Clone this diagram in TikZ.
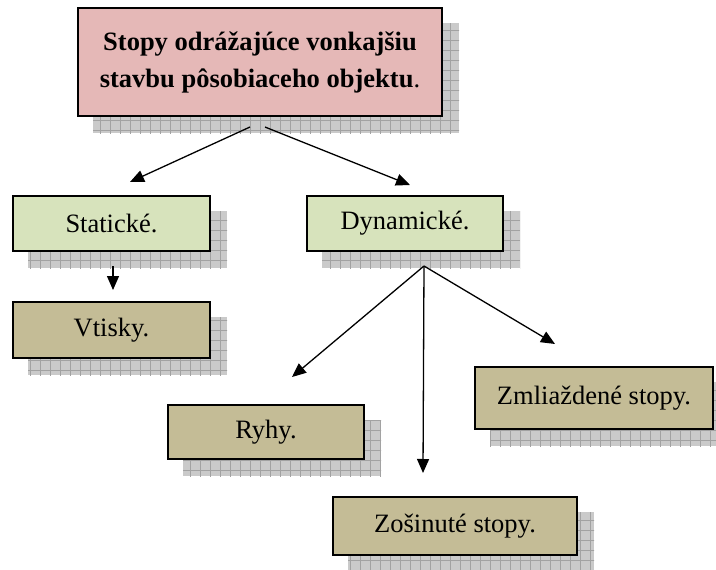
\documentclass[tikz,border=0pt]{standalone}
\usepackage{fontspec}
\setmainfont{Liberation Serif}
\usetikzlibrary{arrows.meta,calc,backgrounds}

\definecolor{headfill}{HTML}{E5B8B7}
\definecolor{midfill}{HTML}{D7E3BC}
\definecolor{leaffill}{HTML}{C4BC96}
\definecolor{shadefill}{HTML}{CACACA}
\definecolor{shadegrid}{HTML}{A2A2A2}

\tikzset{
  card/.style={draw=black, line width=2pt, inner sep=0pt, align=center,
    font=\fontsize{26.5}{37}\selectfont},
  headcard/.style={card, fill=headfill},
  midcard/.style={card, fill=midfill},
  leafcard/.style={card, fill=leaffill},
  link/.style={line width=1.3pt, -{Triangle[length=14pt,width=12pt]}},
}

% grid-patterned drop shadow behind a card
\newcommand\cardshadow[1]{%
  \begin{scope}
    \clip ([shift={(16,16)}]#1.north west) rectangle ([shift={(16,16)}]#1.south east);
    \fill[shadefill] ([shift={(16,16)}]#1.north west) rectangle ([shift={(16,16)}]#1.south east);
    \draw[shadegrid, line width=0.8pt, step=10pt]
      ([shift={(6,6)}]#1.north west) grid ([shift={(26,26)}]#1.south east);
  \end{scope}}

\begin{document}
\begin{tikzpicture}[x=1pt, y=-1pt]
  \useasboundingbox (0,0) rectangle (716,570);

  % cards
  \node[headcard, minimum width=364pt, minimum height=108pt] (head) at (260,62)
    {\textbf{Stopy odrážajúce vonkajšiu}\\\textbf{stavbu pôsobiaceho objektu}.};
  \node[midcard, minimum width=197pt, minimum height=55pt] (stat) at (111.5,223.5) {Statické.};
  \node[midcard, minimum width=196pt, minimum height=55pt] (dyn) at (405,223.5) {Dynamické.};
  \node[leafcard, minimum width=197pt, minimum height=56pt] (vtisky) at (111.5,330) {Vtisky.};
  \node[leafcard, minimum width=196pt, minimum height=54pt] (ryhy) at (266,432) {Ryhy.};
  \node[leafcard, minimum width=238pt, minimum height=62pt] (zml) at (594,398) {Zmliaždené stopy.};
  \node[leafcard, minimum width=244pt, minimum height=58pt] (zos) at (455,526) {Zošinuté stopy.};

  % shadows
  \begin{scope}[on background layer]
    \cardshadow{head}
    \cardshadow{stat}
    \cardshadow{dyn}
    \cardshadow{vtisky}
    \cardshadow{ryhy}
    \cardshadow{zml}
    \cardshadow{zos}
  \end{scope}

  % connectors
  \draw[link] ($(head.south)+(-10,10)$) -- ($(stat.north)+(18.5,-13)$);
  \draw[link] ($(head.south)+(5,10)$) -- ($(dyn.north)+(5,-10)$);
  \draw[link] ($(stat.south)+(1.5,14)$) -- ($(vtisky.north)+(1.5,-11)$);
  \coordinate (fork) at ($(dyn.south)+(19,14)$);
  \draw[link] (fork) -- ($(ryhy.north)+(26,-27)$);
  \draw[link] (fork) -- ($(zos.north)+(-32,-23)$);
  \draw[link] (fork) -- ($(zml.north)+(-39,-22)$);
\end{tikzpicture}
\end{document}
